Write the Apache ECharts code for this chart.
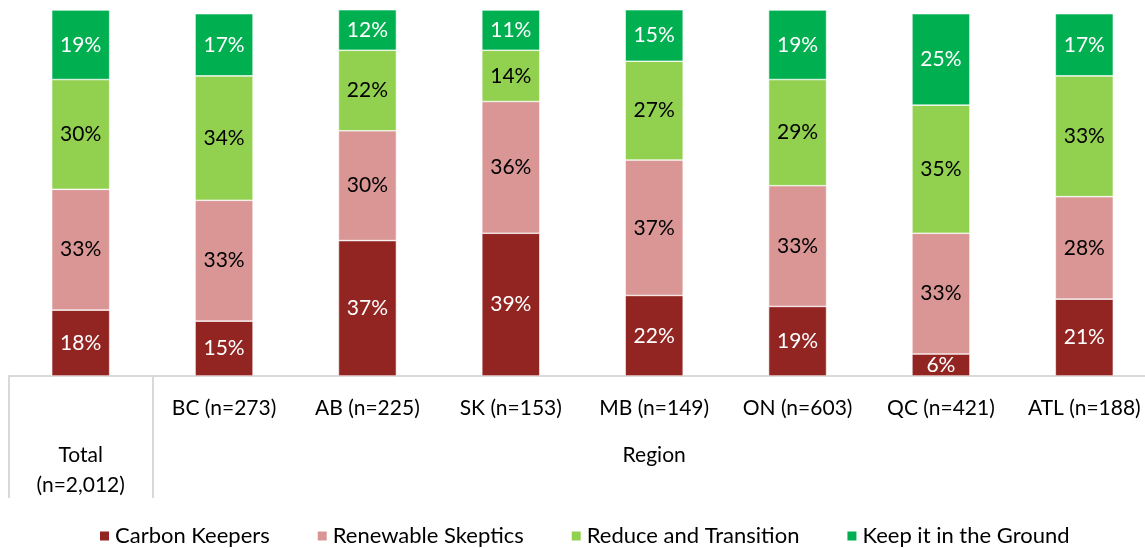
<!DOCTYPE html>
<html>
<head>
<meta charset="utf-8">
<script src="https://cdn.jsdelivr.net/npm/echarts@6/dist/echarts.min.js"></script>
<style>
  html, body { margin: 0; padding: 0; background: #fff; }
  #chart { width: 1145px; height: 548px; }
</style>
</head>
<body>
<div id="chart"></div>
<script>
// Categories along the bottom: the overall sample, then the seven regions
const categories = ['Total (n=2,012)', 'BC (n=273)', 'AB (n=225)', 'SK (n=153)', 'MB (n=149)', 'ON (n=603)', 'QC (n=421)', 'ATL (n=188)'];
const groupLabel = 'Region';

// Segment shares (%) per category, bottom to top
const carbonKeepers       = [18, 15, 37, 39, 22, 19, 6, 21];
const renewableSkeptics   = [33, 33, 30, 36, 37, 33, 33, 28];
const reduceAndTransition = [30, 34, 22, 14, 27, 29, 35, 33];
const keepInTheGround     = [19, 17, 12, 11, 15, 19, 25, 17];

const seriesNames = ['Carbon Keepers', 'Renewable Skeptics', 'Reduce and Transition', 'Keep it in the Ground'];
const seriesColors = ['#922521', '#d99694', '#92d050', '#00b050'];
const labelColors = ['#ffffff', '#000000', '#000000', '#ffffff'];
const seriesValues = [carbonKeepers, renewableSkeptics, reduceAndTransition, keepInTheGround];

const FONT = 'Lato';
const FS = 21;

const chart = echarts.init(document.getElementById('chart'), null, { renderer: 'canvas' });

const series = seriesNames.map((name, i) => ({
  name: name,
  type: 'bar',
  stack: 'share',
  barWidth: 58,
  data: seriesValues[i],
  itemStyle: { color: seriesColors[i], borderColor: '#ffffff', borderWidth: 0.6 },
  label: {
    show: true,
    position: 'inside',
    formatter: '{c}%',
    color: labelColors[i],
    fontFamily: FONT,
    fontSize: FS
  }
}));

chart.setOption({
  animation: false,
  textStyle: { fontFamily: FONT },
  grid: { left: 9, top: 10, width: 1147, height: 366, containLabel: false, outerBoundsMode: 'none' },
  xAxis: {
    type: 'category',
    data: categories,
    axisLine: { show: true, lineStyle: { color: '#d9d9d9', width: 2 } },
    axisTick: {
      show: true,
      length: 122,
      interval: (idx) => idx <= 1,
      lineStyle: { color: '#d9d9d9', width: 2 }
    },
    axisLabel: {
      interval: 0,
      margin: 20,
      color: '#000',
      fontFamily: FONT,
      fontSize: FS,
      lineHeight: 24,
      formatter: (value, idx) => {
        if (idx === 0) {
          const parts = value.split(' ');
          return '{gap| }\n{t|' + parts[0] + '}\n{t|' + parts[1] + '}';
        }
        if (idx === 4) {
          return '{n|' + value + '}\n{r|' + groupLabel + '}';
        }
        return value;
      },
      rich: {
        gap: { lineHeight: 44, fontSize: FS, fontFamily: FONT },
        t: { lineHeight: 30, fontSize: FS, fontFamily: FONT, color: '#000' },
        n: { lineHeight: 24, fontSize: FS, fontFamily: FONT, color: '#000' },
        r: { lineHeight: 70, fontSize: FS, fontFamily: FONT, color: '#000' }
      }
    }
  },
  yAxis: {
    type: 'value',
    min: 0,
    max: 100,
    show: false,
    splitLine: { show: false }
  },
  legend: {
    top: 520,
    left: 93,
    icon: 'rect',
    itemWidth: 11,
    itemHeight: 11,
    itemGap: 46,
    textStyle: { color: '#000', fontFamily: FONT, fontSize: 22 },
    data: seriesNames
  },
  series: series
});
</script>
</body>
</html>
